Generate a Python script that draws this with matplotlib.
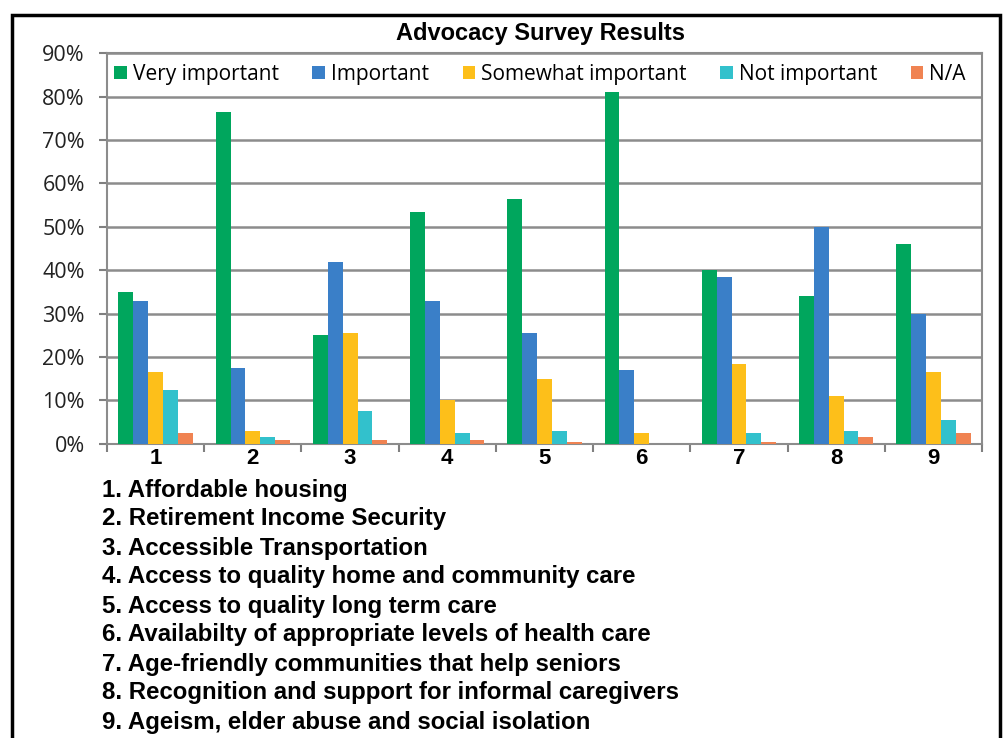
import numpy as np
import matplotlib
matplotlib.use('Agg')
import matplotlib.pyplot as plt
from matplotlib.patches import Rectangle

# survey data, percent per issue
issues = ['1', '2', '3', '4', '5', '6', '7', '8', '9']
series_names = ['Very important', 'Important', 'Somewhat important', 'Not important', 'N/A']
very_important = [35, 76.5, 25, 53.5, 56.5, 81, 40, 34, 46]
important = [33, 17.5, 42, 33, 25.5, 17, 38.5, 50, 30]
somewhat_important = [16.5, 3, 25.5, 10, 15, 2.5, 18.5, 11, 16.5]
not_important = [12.5, 1.5, 7.5, 2.5, 3, 0, 2.5, 3, 5.5]
not_applicable = [2.5, 1, 1, 1, 0.5, 0, 0.5, 1.5, 2.5]
issue_names = [
    '1. Affordable housing',
    '2. Retirement Income Security',
    '3. Accessible Transportation',
    '4. Access to quality home and community care',
    '5. Access to quality long term care',
    '6. Availabilty of appropriate levels of health care',
    '7. Age-friendly communities that help seniors',
    '8. Recognition and support for informal caregivers',
    '9. Ageism, elder abuse and social isolation',
]

colors = ['#00a65d', '#3a7fc8', '#fdbf1a', '#32c1cc', '#f08352']
series = [very_important, important, somewhat_important, not_important, not_applicable]

fig = plt.figure(figsize=(10.04, 7.38), dpi=100)
ax = fig.add_axes([0.1066, 0.3985, 0.8715, 0.5295])

x = np.arange(len(issues))
w = 0.153
for i, vals in enumerate(series):
    ax.bar(x + (i - 2) * w, vals, w, color=colors[i], label=series_names[i], zorder=3)

ax.set_xlim(-0.5, len(issues) - 0.5)
ax.set_ylim(0, 90)
ax.set_yticks(np.arange(0, 91, 10))
ax.set_yticklabels(['%d%%' % v for v in range(0, 91, 10)],
                   fontfamily='Open Sans', fontsize=15.5, color='#222222')
ax.set_xticks(x)
ax.set_xticklabels(issues, fontfamily='Liberation Sans', fontweight='bold', fontsize=16)
ax.set_xticks(np.arange(-0.5, len(issues)), minor=True)
ax.tick_params(axis='x', which='major', length=0, pad=3)
ax.tick_params(axis='x', which='minor', length=6, width=1.5, color='#808080')
ax.tick_params(axis='y', length=6, width=1.5, color='#808080', pad=10)
ax.grid(axis='y', color='#8c8c8c', linewidth=1.8, zorder=0)
for s in ax.spines.values():
    s.set_color('#8c8c8c')
    s.set_linewidth(1.5)

ax.legend(loc='upper center', bbox_to_anchor=(0.495, 1.01), ncol=5, frameon=False,
          prop={'family': 'Open Sans', 'size': 15}, handlelength=0.6, handleheight=0.6,
          handletextpad=0.3, columnspacing=1.6, borderaxespad=0.3)

fig.text(0.538, 0.955, 'Advocacy Survey Results', ha='center', va='center',
         fontfamily='Liberation Sans', fontweight='bold', fontsize=17)

for k, name in enumerate(issue_names):
    fig.text(0.102, 1 - (490 + 29 * k) / 738, name, ha='left', va='center',
             fontfamily='Liberation Sans', fontweight='bold', fontsize=17.3)

# outer frame
fig.patches.append(Rectangle((12 / 1004, -0.05), 988 / 1004, 1.05 - 15 / 738,
                             transform=fig.transFigure, fill=False,
                             edgecolor='black', linewidth=2.5))

fig.savefig('out.png', dpi=100)
